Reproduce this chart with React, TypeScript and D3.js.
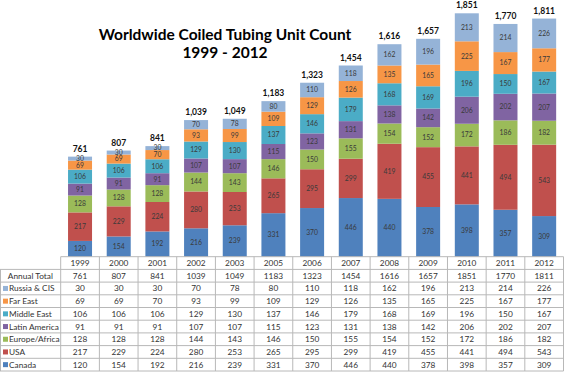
import React from "react";
import * as d3 from "d3";

const years = ["1999", "2000", "2001", "2002", "2003", "2005", "2006", "2007", "2008", "2009", "2010", "2011", "2012"];
const seriesNames = ["Canada", "USA", "Europe/Africa", "Latin America", "Middle East", "Far East", "Russia & CIS"];
const seriesColors = ["#4F81BD", "#C0504D", "#9BBB59", "#8064A2", "#4BACC6", "#F79646", "#95B3D7"];
const canada = [120, 154, 192, 216, 239, 331, 370, 446, 440, 378, 398, 357, 309];
const usa = [217, 229, 224, 280, 253, 265, 295, 299, 419, 455, 441, 494, 543];
const europeAfrica = [128, 128, 128, 144, 143, 146, 150, 155, 154, 152, 172, 186, 182];
const latinAmerica = [91, 91, 91, 107, 107, 115, 123, 131, 138, 142, 206, 202, 207];
const middleEast = [106, 106, 106, 129, 130, 137, 146, 179, 168, 169, 196, 150, 167];
const farEast = [69, 69, 70, 93, 99, 109, 129, 126, 135, 165, 225, 167, 177];
const russiaCIS = [30, 30, 30, 70, 78, 80, 110, 118, 162, 196, 213, 214, 226];
const annualTotal = [761, 807, 841, 1039, 1049, 1183, 1323, 1454, 1616, 1657, 1851, 1770, 1811];

const seriesValues = [canada, usa, europeAfrica, latinAmerica, middleEast, farEast, russiaCIS];

const W = 566;
const H = 376;
const FONT = "Lato, 'Open Sans', sans-serif";

export default function App() {
  const tableLeft = 60.7;
  const tableRight = 563.5;
  const tableTop = 256.7;
  const rowH = 12.7;
  const labelLeft = 0;

  const x = d3.scaleBand<string>().domain(years).range([tableLeft, tableRight]).paddingInner(0).paddingOuter(0);
  const barW = 24;
  const y = d3.scaleLinear().domain([0, 1851]).range([tableTop, 13.3]);

  const rows = years.map((yr, i) => {
    const obj: any = { year: yr };
    seriesNames.forEach((s, k) => (obj[s] = seriesValues[k][i]));
    return obj;
  });
  const stacked = d3.stack<any>().keys(seriesNames)(rows);

  // table rows: header, annual total, then series in reverse order
  const tableSeriesOrder = [6, 5, 4, 3, 2, 1, 0];
  const nRows = 9;
  const tableBottom = tableTop + rowH * nRows;
  const gridColor = "#b8b8b8";
  const fmt = d3.format(",");

  return (
    <svg width={W} height={H} style={{ position: "absolute", left: 0, top: 0, background: "#fff" }}>
      <rect x={0} y={0} width={W} height={H} fill="#fff" />
      <text x={225} y={40} textAnchor="middle" fontFamily={FONT} fontWeight="bold" fontSize={15.5} fill="#000">
        Worldwide Coiled Tubing Unit Count
      </text>
      <text x={225} y={58} textAnchor="middle" fontFamily={FONT} fontWeight="bold" fontSize={15.5} fill="#000">
        1999 - 2012
      </text>

      {stacked.map((layer, k) => (
        <g key={layer.key}>
          {layer.map((d, i) => {
            const cx = (x(years[i]) as number) + x.bandwidth() / 2;
            const y0 = y(d[0]);
            const y1 = y(d[1]);
            return (
              <g key={i}>
                <rect x={cx - barW / 2} y={y1} width={barW} height={y0 - y1} fill={seriesColors[k]} />
                <text
                  x={cx}
                  y={(y0 + y1) / 2 + 2.4}
                  textAnchor="middle"
                  fontFamily={FONT}
                  fontSize={6.8}
                  fill="#3a3a3a"
                >
                  {seriesValues[k][i]}
                </text>
              </g>
            );
          })}
        </g>
      ))}

      {annualTotal.map((t, i) => {
        const cx = (x(years[i]) as number) + x.bandwidth() / 2;
        return (
          <text key={i} x={cx} y={y(t) - 5} textAnchor="middle" fontFamily={FONT} fontWeight="bold" fontSize={8.5} fill="#111">
            {fmt(t)}
          </text>
        );
      })}

      {/* table */}
      <g fontFamily={FONT} fontSize={8.3} fill="#333">
        {/* horizontal lines */}
        {d3.range(nRows + 1).map((r) => {
          const yy = tableTop + r * rowH;
          const x0 = r === 0 ? tableLeft : labelLeft;
          return <line key={"h" + r} x1={x0} x2={tableRight} y1={yy} y2={yy} stroke={gridColor} strokeWidth={1} />;
        })}
        {/* vertical lines */}
        <line x1={labelLeft + 0.5} x2={labelLeft + 0.5} y1={tableTop + rowH} y2={tableBottom} stroke={gridColor} />
        {years.map((yr, i) => {
          const xx = x(yr) as number;
          return <line key={"v" + i} x1={xx} x2={xx} y1={tableTop} y2={tableBottom} stroke={gridColor} />;
        })}
        <line x1={tableRight} x2={tableRight} y1={tableTop} y2={tableBottom} stroke={gridColor} />

        {years.map((yr, i) => {
          const cx = (x(yr) as number) + x.bandwidth() / 2;
          return (
            <text key={"y" + i} x={cx} y={tableTop + rowH / 2 + 3} textAnchor="middle">
              {yr}
            </text>
          );
        })}

        <text x={tableLeft / 2} y={tableTop + rowH * 1.5 + 3} textAnchor="middle">
          Annual Total
        </text>
        {annualTotal.map((t, i) => {
          const cx = (x(years[i]) as number) + x.bandwidth() / 2;
          return (
            <text key={"t" + i} x={cx} y={tableTop + rowH * 1.5 + 3} textAnchor="middle">
              {t}
            </text>
          );
        })}

        {tableSeriesOrder.map((k, r) => {
          const rowY = tableTop + rowH * (r + 2);
          return (
            <g key={"r" + k}>
              <rect x={3} y={rowY + rowH / 2 - 2.5} width={5} height={5} fill={seriesColors[k]} />
              <text x={9} y={rowY + rowH / 2 + 3}>
                {seriesNames[k]}
              </text>
              {seriesValues[k].map((v, i) => {
                const cx = (x(years[i]) as number) + x.bandwidth() / 2;
                return (
                  <text key={i} x={cx} y={rowY + rowH / 2 + 3} textAnchor="middle">
                    {v}
                  </text>
                );
              })}
            </g>
          );
        })}
      </g>
    </svg>
  );
}
